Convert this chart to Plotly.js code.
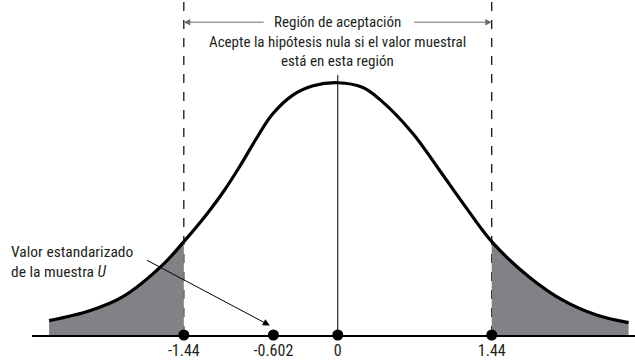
<!DOCTYPE html>
<html>
<head>
<meta charset="utf-8">
<script src="https://cdn.plot.ly/plotly-3.0.1.min.js"></script>
<style>
  html, body { margin: 0; padding: 0; background: #fff; }
  #myDiv { width: 635px; height: 361px; }
</style>
</head>
<body>
<div id="myDiv"></div>
<script>
// curve heights (relative to the peak)
var curveX = [-2.70, -2.32, -2.01, -1.64, -1.44, -1.22, -1.07, -0.92, -0.76, -0.61, -0.42, -0.23, 0,
  0.23, 0.39, 0.70, 0.95, 1.17, 1.44, 1.79, 2.10, 2.42, 2.72];
var curveY = [0.057, 0.096, 0.152, 0.277, 0.37, 0.482, 0.568, 0.666, 0.780, 0.876, 0.951, 0.988, 1,
  0.982, 0.935, 0.80, 0.654, 0.523, 0.37, 0.23, 0.139, 0.079, 0.049];
var critical = 1.44;
var sampleU = -0.602;
var pointX = [-1.44, -0.602, 0, 1.44];
var pointLabels = ["-1.44", "-0.602", "0", "1.44"];

var font = "Liberation Sans Narrow, Arial Narrow, Roboto Condensed, Liberation Sans, sans-serif";
var ink = "#231f20";
var shade = "#808285";

var leftX = [], leftY = [], rightX = [], rightY = [];
curveX.forEach(function (x, i) {
  if (x <= -critical) { leftX.push(x); leftY.push(curveY[i]); }
  if (x >= critical) { rightX.push(x); rightY.push(curveY[i]); }
});

var tailLeft = {
  x: leftX, y: leftY, type: "scatter", mode: "lines", fill: "tozeroy",
  fillcolor: shade, line: { width: 0, shape: "spline" }, hoverinfo: "skip"
};
var tailRight = {
  x: rightX, y: rightY, type: "scatter", mode: "lines", fill: "tozeroy",
  fillcolor: shade, line: { width: 0, shape: "spline" }, hoverinfo: "skip"
};
var curve = {
  x: curveX, y: curveY, type: "scatter", mode: "lines",
  line: { color: "#000", width: 3.2, shape: "spline", smoothing: 1 }
};
var dots = {
  x: pointX, y: pointX.map(function () { return 0; }), type: "scatter", mode: "markers",
  marker: { color: "#000", size: 11 }, cliponaxis: false
};

var topY = 1.24;
var layout = {
  width: 635, height: 361,
  margin: { l: 32, r: 0, t: 0, b: 26 },
  showlegend: false,
  paper_bgcolor: "#fff", plot_bgcolor: "#fff",
  font: { family: font, color: ink, size: 15 },
  xaxis: {
    range: [-2.86, 2.78], showgrid: false, zeroline: false,
    showline: true, linecolor: "#000", linewidth: 1.5,
    tickvals: pointX, ticktext: pointLabels, ticks: "",
    tickfont: { family: font, size: 16, color: ink }
  },
  yaxis: { range: [0, 1.328], visible: false, showgrid: false, zeroline: false },
  shapes: [
    { type: "line", layer: "below", x0: -critical, x1: -critical, y0: 0, y1: 1.328,
      line: { color: "#000", width: 1.2, dash: "dash" } },
    { type: "line", layer: "below", x0: critical, x1: critical, y0: 0, y1: 1.328,
      line: { color: "#000", width: 1.2, dash: "dash" } },
    { type: "line", layer: "below", x0: 0, x1: 0, y0: 0, y1: 1.03,
      line: { color: "#000", width: 1 } }
  ],
  annotations: [
    { x: -critical, y: topY, ax: -0.68, ay: topY, axref: "x", ayref: "y", text: "",
      showarrow: true, arrowhead: 2, arrowsize: 1.3, arrowwidth: 1, arrowcolor: "#6d6e71" },
    { x: critical, y: topY, ax: 0.70, ay: topY, axref: "x", ayref: "y", text: "",
      showarrow: true, arrowhead: 2, arrowsize: 1.3, arrowwidth: 1, arrowcolor: "#6d6e71" },
    { x: 0, y: topY, text: "Región de aceptación", showarrow: false,
      font: { size: 15, family: font, color: ink } },
    { x: 0, y: topY - 0.078, text: "Acepte la hipótesis nula si el valor muestral", showarrow: false,
      font: { size: 15, family: font, color: ink } },
    { x: 0, y: topY - 0.152, text: "está en esta región", showarrow: false,
      font: { size: 15, family: font, color: ink } },
    { xref: "paper", x: -0.038, y: 0.29, xanchor: "left", align: "left",
      text: "Valor estandarizado<br>de la muestra <i>U</i>", showarrow: false,
      font: { size: 15.5, family: font, color: ink } },
    { x: sampleU, y: 0.03, ax: -128, ay: -68, text: "", showarrow: true,
      arrowhead: 2, arrowsize: 1.4, arrowwidth: 1, arrowcolor: "#000", standoff: 4 }
  ]
};

Plotly.newPlot("myDiv", [tailLeft, tailRight, curve, dots], layout, { displayModeBar: false, staticPlot: true });
</script>
</body>
</html>
